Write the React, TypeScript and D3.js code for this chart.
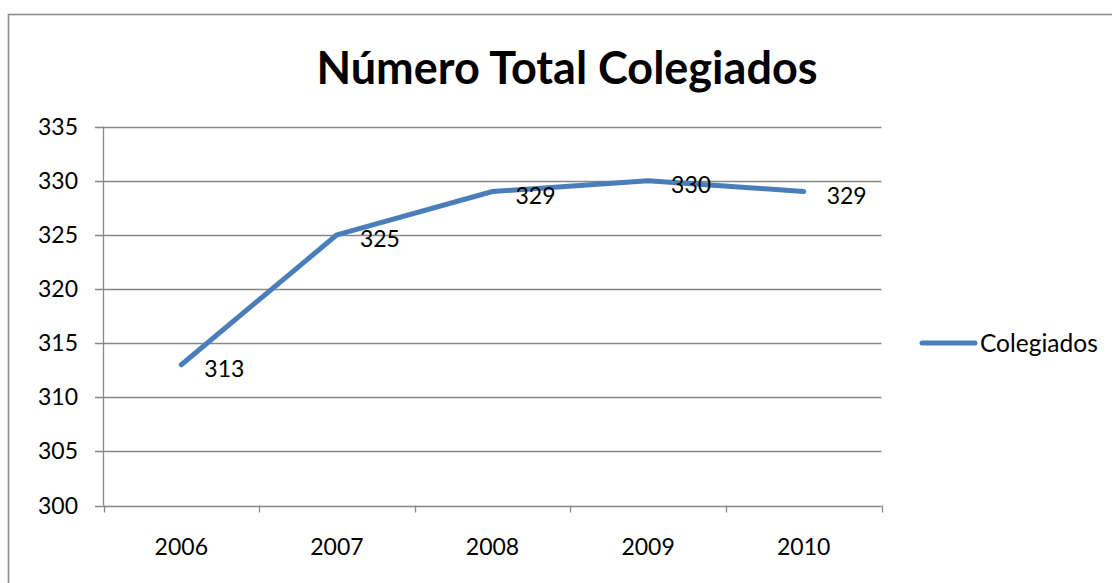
import React from "react";
import * as d3 from "d3";

const categories = ["2006", "2007", "2008", "2009", "2010"];
const values = [313, 325, 329, 330, 329];
const yTicks = [300, 305, 310, 315, 320, 325, 330, 335];
const seriesName = "Colegiados";
const title = "Número Total Colegiados";

const W = 1112;
const H = 583;
const FONT = "Lato, 'Open Sans', sans-serif";
const GRID = "#878787";
const LINE = "#4a7ebb";

export default function App() {
  const left = 103.5, right = 881.5, top = 126.5, bottom = 505.5;
  const x = d3.scaleBand<string>().domain(categories).range([left, right]);
  const y = d3.scaleLinear().domain([300, 335]).range([bottom, top]);
  const cx = (c: string) => (x(c) as number) + x.bandwidth() / 2;
  const line = d3
    .line<number>()
    .x((_, i) => cx(categories[i]))
    .y((v) => y(v));
  const tickXs = [...categories.map((c) => x(c) as number), right];

  return (
    <svg
      width={W}
      height={H}
      style={{ position: "absolute", left: 0, top: 0, background: "#fff" }}
      fontFamily={FONT}
    >
      <rect x={8.5} y={14.5} width={W + 20} height={H + 20} fill="#fff" stroke="#8c8c8c" strokeWidth={1.6} />
      <text x={567} y={84} textAnchor="middle" fontSize={45} fontWeight={700} fill="#000">
        {title}
      </text>
      {yTicks.map((t) => (
        <g key={t}>
          <line x1={95} x2={right} y1={Math.round(y(t)) + 0.5} y2={Math.round(y(t)) + 0.5} stroke={GRID} strokeWidth={1.3} />
          <text x={78} y={y(t)} dy="0.35em" textAnchor="end" fontSize={23} fill="#000">
            {t}
          </text>
        </g>
      ))}
      <line x1={left} x2={left} y1={top} y2={bottom} stroke={GRID} strokeWidth={1.3} />
      {tickXs.map((tx, i) => (
        <line key={i} x1={Math.round(tx) + 0.5} x2={Math.round(tx) + 0.5} y1={bottom} y2={bottom + 7} stroke={GRID} strokeWidth={1.3} />
      ))}
      {categories.map((c) => (
        <text key={c} x={cx(c)} y={bottom + 41} dy="0.35em" textAnchor="middle" fontSize={23} fill="#000">
          {c}
        </text>
      ))}
      <path d={line(values) || ""} fill="none" stroke={LINE} strokeWidth={5} strokeLinejoin="round" strokeLinecap="round" />
      {values.map((v, i) => (
        <text key={i} x={cx(categories[i]) + 23} y={y(v) + 4} dy="0.35em" fontSize={23} fill="#000">
          {v}
        </text>
      ))}
      <line x1={922} x2={975} y1={343} y2={343} stroke={LINE} strokeWidth={5} strokeLinecap="round" />
      <text x={980} y={343} dy="0.35em" fontSize={24.5} fill="#000">
        {seriesName}
      </text>
    </svg>
  );
}
